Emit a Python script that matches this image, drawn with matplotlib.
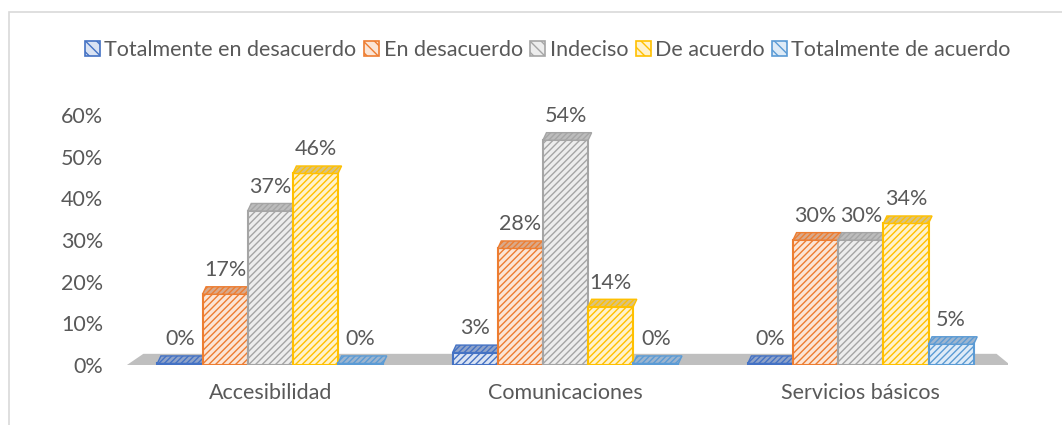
import numpy as np
import matplotlib.pyplot as plt
from matplotlib.patches import Polygon, Rectangle, Patch

plt.rcParams['font.family'] = ['Lato', 'DejaVu Sans']

categorias = ['Accesibilidad', 'Comunicaciones', 'Servicios básicos']
series = ['Totalmente en desacuerdo', 'En desacuerdo', 'Indeciso',
          'De acuerdo', 'Totalmente de acuerdo']
valores = [
    [0.00, 0.03, 0.00],   # Totalmente en desacuerdo
    [0.17, 0.28, 0.30],   # En desacuerdo
    [0.37, 0.54, 0.30],   # Indeciso
    [0.46, 0.14, 0.34],   # De acuerdo
    [0.00, 0.00, 0.05],   # Totalmente de acuerdo
]
etiquetas_y = ['0%', '10%', '20%', '30%', '40%', '50%', '60%']

bordes = ['#4472C4', '#ED7D31', '#A5A5A5', '#FFC000', '#5B9BD5']
rellenos = ['#DAE3F3', '#FBE5D6', '#EDEDED', '#FFF2CC', '#DEEBF7']
techos = ['#8FA3C9', '#D9A98A', '#BDBDBD', '#D9C27F', '#9DB5CF']
texto = '#595959'
tam = 15.5

fig = plt.figure(figsize=(10.62, 4.25), dpi=100)
ax = fig.add_axes([0.1155, 0.141, 0.834, 0.588])

x = np.arange(len(categorias))
ancho = 0.153
dx, dy = 0.012, 0.018

# piso gris
piso = Polygon([(-0.49, -0.002), (2.51, -0.002), (2.46, 0.027), (-0.43, 0.027)],
               closed=True, facecolor='#BFBFBF', edgecolor='none', zorder=1)
ax.add_patch(piso)

plt.rcParams['hatch.linewidth'] = 1.0
for i, serie in enumerate(series):
    pos = x + (i - 2) * ancho
    alto = [max(v, 0.004) for v in valores[i]]
    barras = ax.bar(pos, alto, ancho, color=rellenos[i], edgecolor=bordes[i],
                    linewidth=1.5, hatch='/////', zorder=3)
    for b, v in zip(barras, valores[i]):
        bx, bw, bh = b.get_x(), b.get_width(), b.get_height()
        techo = Polygon([(bx, bh), (bx + bw, bh), (bx + bw + dx, bh + dy), (bx + dx, bh + dy)],
                        closed=True, facecolor=techos[i], edgecolor=bordes[i],
                        linewidth=1.0, hatch='//////', zorder=3)
        ax.add_patch(techo)
        ax.text(bx + bw / 2, bh + 0.058, '{:.0%}'.format(v), ha='center', va='center',
                fontsize=tam, color=texto, zorder=5)

ax.set_xlim(-0.5, 2.5)
ax.set_ylim(0, 0.6)
ax.set_xticks(x)
ax.set_xticklabels(categorias, fontsize=tam, color=texto)
ax.set_yticks(np.arange(0, 0.61, 0.1))
ax.set_yticklabels(etiquetas_y, fontsize=tam, color=texto)
ax.tick_params(length=0)
ax.tick_params(axis='x', pad=13)
ax.tick_params(axis='y', pad=14)
for s in ax.spines.values():
    s.set_visible(False)
ax.patch.set_alpha(0)

manijas = [Patch(facecolor=rellenos[i], edgecolor=bordes[i], hatch='\\\\\\', linewidth=1.2)
           for i in range(len(series))]
fig.legend(manijas, series, loc='center', bbox_to_anchor=(0.516, 0.883), ncol=5,
           frameon=False, fontsize=tam, handlelength=0.7, handleheight=0.7,
           handletextpad=0.2, columnspacing=0.35, labelcolor=texto)

fig.patches.append(Rectangle((0.0085, -0.05), 1.2, 1.022, transform=fig.transFigure,
                             fill=False, edgecolor='#D9D9D9', linewidth=1.2))

fig.savefig('out.png', dpi=100)
